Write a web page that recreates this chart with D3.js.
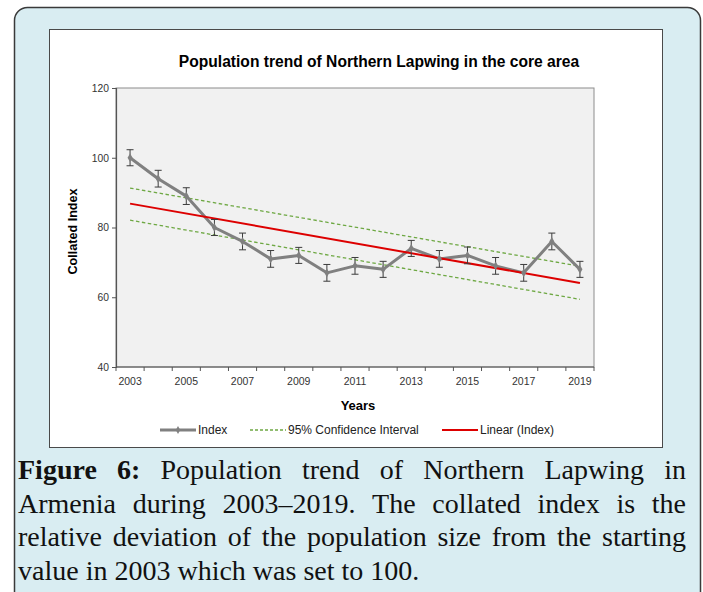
<!DOCTYPE html>
<html>
<head>
<meta charset="utf-8">
<script src="https://cdn.jsdelivr.net/npm/d3@7/dist/d3.min.js"></script>
<style>
  html, body { margin: 0; padding: 0; background: #ffffff; }
  svg { display: block; }
</style>
</head>
<body>
<svg id="fig" width="703" height="592" font-family="'Liberation Sans', Arial, sans-serif"></svg>
<script>
// Survey years and collated index (2003 = 100)
const years = [2003, 2004, 2005, 2006, 2007, 2008, 2009, 2010, 2011,
               2012, 2013, 2014, 2015, 2016, 2017, 2018, 2019];
const indexValues = [100, 94, 89, 80, 76, 71, 72, 67, 69,
                     68, 74, 71, 72, 69, 67, 76, 68];
// Standard error of each yearly index
const indexErrors = [2.3, 2.4, 2.4, 2.3, 2.4, 2.4, 2.3, 2.4, 2.4,
                     2.3, 2.3, 2.4, 2.4, 2.4, 2.4, 2.4, 2.3];
// 95% confidence band of the trend, at the first and last year
const ciYears = [2003, 2019];
const ciUpper = [91.3, 68.9];
const ciLower = [82.1, 59.4];
// Axis tick labels
const yTicks = [40, 60, 80, 100, 120];
const xTickLabels = [2003, 2005, 2007, 2009, 2011, 2013, 2015, 2017, 2019];
const legendLabels = ["Index", "95% Confidence Interval", "Linear (Index)"];

const chartTitle = "Population trend of Northern Lapwing in the core area";
const captionLines = [
  "Figure 6: Population trend of Northern Lapwing in",
  "Armenia during 2003\u20132019. The collated index is the",
  "relative deviation of the population size from the starting",
  "value in 2003 which was set to 100."
];

const svg = d3.select("#fig");

// Outer figure frame
svg.append("rect")
  .attr("x", 14.5).attr("y", 7.5).attr("width", 686).attr("height", 600)
  .attr("rx", 13).attr("ry", 13)
  .attr("fill", "#d9edf2").attr("stroke", "#3a3a3a").attr("stroke-width", 1.5);

// White chart panel
svg.append("rect")
  .attr("x", 49.5).attr("y", 29.5).attr("width", 613).attr("height", 418)
  .attr("fill", "#ffffff").attr("stroke", "#4a4a4a").attr("stroke-width", 1);

// Scales
const plot = { left: 116, right: 594, top: 88, bottom: 367 };
const x = d3.scaleBand().domain(years).range([plot.left, plot.right]).padding(0);
const xc = yr => x(yr) + x.bandwidth() / 2;
const y = d3.scaleLinear().domain([40, 120]).range([plot.bottom, plot.top]);

// Plot area
svg.append("rect")
  .attr("x", plot.left).attr("y", plot.top)
  .attr("width", plot.right - plot.left).attr("height", plot.bottom - plot.top)
  .attr("fill", "#f1f1f1").attr("stroke", "#8c8c8c").attr("stroke-width", 1);

// Title
svg.append("text")
  .attr("x", 379).attr("y", 67)
  .attr("text-anchor", "middle")
  .attr("font-size", 15.6).attr("font-weight", "bold").attr("fill", "#000")
  .text(chartTitle);

// Y axis
const yAxis = d3.axisLeft(y).tickValues(yTicks).tickSize(4).tickPadding(3);
const gy = svg.append("g").attr("transform", `translate(${plot.left},0)`).call(yAxis);
gy.attr("font-family", null).attr("font-size", null);
gy.select(".domain").attr("stroke", "#555").attr("stroke-width", 1.2);
gy.selectAll(".tick line").attr("stroke", "#555");
gy.selectAll(".tick text").attr("font-size", 10.3).attr("fill", "#333");

// X axis: ticks on category boundaries, labels on every other year
const gx = svg.append("g");
gx.append("line")
  .attr("x1", plot.left).attr("x2", plot.right)
  .attr("y1", plot.bottom).attr("y2", plot.bottom)
  .attr("stroke", "#555").attr("stroke-width", 1.2);
const boundaries = years.map(yr => x(yr)).concat([x(years[years.length - 1]) + x.bandwidth()]);
gx.selectAll("line.tk").data(boundaries).join("line").attr("class", "tk")
  .attr("x1", d => d).attr("x2", d => d)
  .attr("y1", plot.bottom).attr("y2", plot.bottom + 4)
  .attr("stroke", "#555");
gx.selectAll("text").data(xTickLabels).join("text")
  .attr("x", d => xc(d)).attr("y", plot.bottom + 18)
  .attr("text-anchor", "middle").attr("font-size", 10.5).attr("fill", "#333")
  .text(d => d);

// Axis titles
svg.append("text")
  .attr("x", 358).attr("y", 410)
  .attr("text-anchor", "middle").attr("font-size", 13).attr("font-weight", "bold")
  .text("Years");
svg.append("text")
  .attr("transform", `translate(77,${(plot.top + plot.bottom) / 2 + 4}) rotate(-90)`)
  .attr("text-anchor", "middle").attr("font-size", 12.6).attr("font-weight", "bold")
  .text("Collated Index");

// Linear trend fitted to the index
const xs = years.map((d, i) => i);
const mx = d3.mean(xs), my = d3.mean(indexValues);
const slope = d3.sum(xs, (d, i) => (d - mx) * (indexValues[i] - my)) /
              d3.sum(xs, d => (d - mx) * (d - mx));
const intercept = my - slope * mx;
const trendPts = [years[0], years[years.length - 1]].map(yr =>
  [xc(yr), y(intercept + slope * years.indexOf(yr))]);

// Confidence interval lines
const line = d3.line();
[ciUpper, ciLower].forEach(vals => {
  svg.append("path")
    .attr("d", line(ciYears.map((yr, i) => [xc(yr), y(vals[i])])))
    .attr("fill", "none").attr("stroke", "#6ea843").attr("stroke-width", 1.3)
    .attr("stroke-dasharray", "3.5,2.5");
});

// Index series
svg.append("path")
  .attr("d", line(years.map((yr, i) => [xc(yr), y(indexValues[i])])))
  .attr("fill", "none").attr("stroke", "#808080").attr("stroke-width", 3)
  .attr("stroke-linejoin", "round");

// Trend line
svg.append("path")
  .attr("d", line(trendPts))
  .attr("fill", "none").attr("stroke", "#dd0000").attr("stroke-width", 2);

// Error bars
const eb = svg.append("g").attr("stroke", "#3c3c3c").attr("stroke-width", 1);
years.forEach((yr, i) => {
  const cx = xc(yr);
  const hi = y(indexValues[i] + indexErrors[i]);
  const lo = y(indexValues[i] - indexErrors[i]);
  eb.append("line").attr("x1", cx).attr("x2", cx).attr("y1", hi).attr("y2", lo);
  eb.append("line").attr("x1", cx - 3.5).attr("x2", cx + 3.5).attr("y1", hi).attr("y2", hi);
  eb.append("line").attr("x1", cx - 3.5).attr("x2", cx + 3.5).attr("y1", lo).attr("y2", lo);
});

// Point markers
const diamond = d3.symbol().type(d3.symbolDiamond).size(22);
svg.append("g").selectAll("path").data(years).join("path")
  .attr("transform", (d, i) => `translate(${xc(d)},${y(indexValues[i])})`)
  .attr("d", diamond).attr("fill", "#808080");

// Legend
const lg = svg.append("g").attr("font-size", 12).attr("fill", "#222");
const ly = 430;
lg.append("line").attr("x1", 160).attr("x2", 196).attr("y1", ly).attr("y2", ly)
  .attr("stroke", "#808080").attr("stroke-width", 3);
lg.append("path").attr("transform", `translate(178,${ly})`)
  .attr("d", d3.symbol().type(d3.symbolDiamond).size(18)).attr("fill", "#808080");
lg.append("text").attr("x", 198).attr("y", ly + 4.2).text(legendLabels[0]);
lg.append("line").attr("x1", 250).attr("x2", 286).attr("y1", ly).attr("y2", ly)
  .attr("stroke", "#6ea843").attr("stroke-width", 1.3).attr("stroke-dasharray", "3,2");
lg.append("text").attr("x", 288).attr("y", ly + 4.2).text(legendLabels[1]);
lg.append("line").attr("x1", 442).attr("x2", 478).attr("y1", ly).attr("y2", ly)
  .attr("stroke", "#dd0000").attr("stroke-width", 2);
lg.append("text").attr("x", 480).attr("y", ly + 4.2).text(legendLabels[2]);

// Caption, justified between the frame margins
const capLeft = 18, capRight = 686, capFont = 28;
const baselines = [479, 513, 546, 580];
const cap = svg.append("g")
  .attr("font-size", capFont).attr("fill", "#111")
  .attr("font-family", "'Liberation Serif', 'Times New Roman', serif");
captionLines.forEach((ln, li) => {
  const words = ln.split(" ");
  const nodes = words.map((w, wi) => cap.append("text")
    .attr("y", baselines[li])
    .attr("font-weight", li === 0 && wi < 2 ? "bold" : "normal")
    .text(w));
  const widths = nodes.map(n => n.node().getComputedTextLength());
  const total = d3.sum(widths);
  const last = li === captionLines.length - 1;
  const gap = last ? capFont * 0.25 : (capRight - capLeft - total) / (words.length - 1);
  let cx = capLeft;
  nodes.forEach((n, i) => { n.attr("x", cx); cx += widths[i] + gap; });
});
</script>
</body>
</html>
